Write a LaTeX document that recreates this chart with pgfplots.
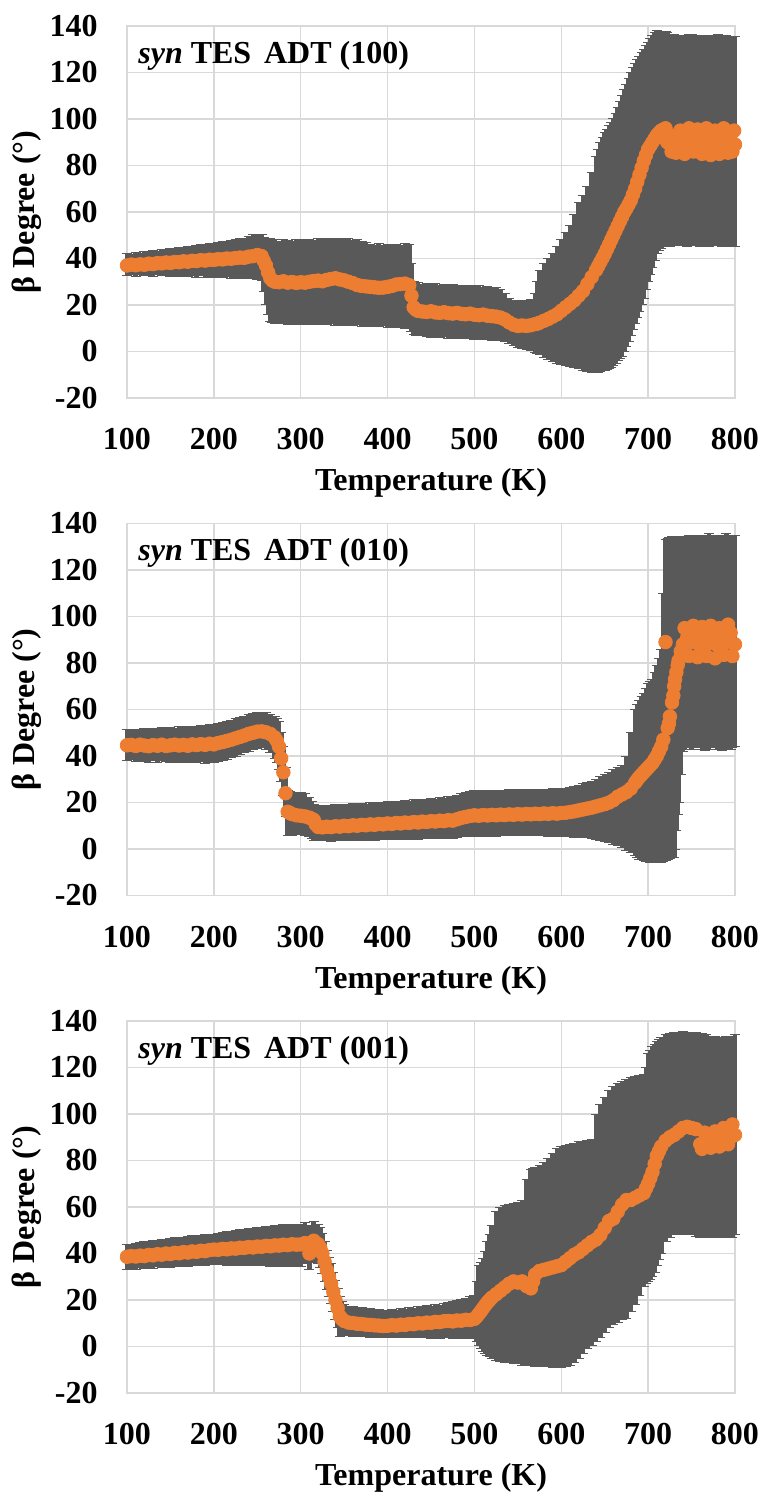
\documentclass[border=0pt]{standalone}
\usepackage{fontspec}
\setmainfont{Liberation Serif}
\usepackage{pgfplots}
\usepackage{pgfplotstable}
\pgfplotsset{compat=1.18}
\definecolor{orng}{RGB}{237,125,49}
\definecolor{ebar}{RGB}{89,89,89}
\definecolor{gridc}{RGB}{217,217,217}

% columns: temperature, beta, lower end, upper end of the error bar
\pgfplotstableread{
T b lo hi
100 37.0 32.5 42.0
105 37.4 33.0 41.8
110 37.1 32.4 42.5
115 37.5 33.1 42.3
120 37.3 32.6 43.0
125 37.8 32.9 42.8
130 37.6 32.3 43.4
135 38.0 33.0 43.2
140 37.9 32.5 43.8
145 38.3 32.8 43.9
150 38.1 32.2 44.3
155 38.5 32.9 44.2
160 38.4 32.4 44.8
165 38.8 32.7 44.7
170 38.6 32.1 45.2
175 39.0 32.6 45.3
180 38.9 32.0 45.6
185 39.3 32.5 45.9
190 39.1 31.9 46.1
195 39.5 32.3 46.4
200 39.4 31.8 46.6
205 39.7 32.2 47.0
210 39.6 31.7 47.2
215 40.0 32.1 47.5
220 39.9 31.5 47.9
225 40.2 31.9 48.0
230 40.4 31.4 48.6
235 40.3 31.8 48.8
240 40.8 31.2 49.3
245 41.0 31.6 50.5
250 41.5 31.0 50.0
255 41.0 30.5 50.5
257.5 39.0 26.0 49.0
260 37.0 20.0 48.0
262.5 34.0 16.0 48.5
265 31.5 13.0 48.5
267.5 30.5 12.5 48.0
270 30.0 12.0 48.0
275 29.8 12.5 47.5
280 30.2 12.0 48.0
285 29.6 11.5 47.8
290 29.9 12.0 47.5
295 29.5 11.8 48.2
300 29.8 11.5 48.0
305 29.6 12.2 47.6
310 30.0 11.6 48.3
315 30.3 11.8 47.8
320 30.5 11.4 48.4
325 30.2 12.0 48.0
330 30.8 11.6 48.6
335 31.2 11.9 48.1
340 31.5 11.3 48.5
345 31.0 11.7 48.8
350 30.6 11.2 48.2
355 30.0 11.6 48.4
360 29.4 11.0 47.9
365 28.6 11.5 48.1
370 28.2 10.9 47.4
375 28.0 11.2 47.0
380 27.8 10.8 46.2
385 27.6 11.2 45.8
390 27.4 10.6 46.3
395 27.5 11.0 45.6
400 27.8 10.5 46.0
405 28.2 10.8 45.4
410 28.8 10.2 46.0
415 29.0 10.5 45.8
420 29.2 10.0 46.5
425 28.5 9.8 46.0
427.5 24.0 8.5 38.0
430 19.0 7.5 30.0
432.5 18.0 7.0 29.8
435 17.5 6.8 29.6
440 17.2 7.0 29.0
445 17.0 6.6 29.3
450 17.3 6.2 28.8
455 16.8 6.5 29.1
460 16.6 6.0 28.6
465 16.9 6.3 29.0
470 16.5 5.8 28.5
475 16.3 6.1 28.8
480 16.6 5.6 28.2
485 16.2 5.9 28.6
490 16.0 5.4 28.0
495 16.3 5.7 28.4
500 15.8 5.2 27.8
505 15.6 5.5 28.2
510 15.9 5.0 27.6
515 15.4 5.3 27.9
520 15.2 4.8 27.4
525 15.0 5.1 27.6
530 14.6 4.6 26.8
535 13.8 4.2 25.0
540 12.5 3.5 23.0
545 11.5 2.5 22.0
550 11.0 1.8 21.5
555 11.2 1.5 21.8
560 11.0 1.0 22.0
565 11.3 0.5 22.5
570 11.8 -0.5 25.0
572.5 12.0 -1.0 30.0
575 12.4 -1.5 35.0
580 13.2 -2.5 38.0
585 14.0 -3.5 40.0
590 15.0 -4.5 42.0
595 16.0 -5.0 45.0
600 17.5 -5.5 48.0
605 19.0 -6.0 51.0
610 20.5 -6.5 54.0
615 22.0 -7.0 59.0
620 24.0 -7.5 64.0
625 26.0 -8.0 67.0
630 29.0 -8.5 71.0
635 32.0 -9.0 77.0
640 35.0 -9.0 84.0
642.5 36.7 -9.0 87.0
645 38.5 -8.5 90.0
647.5 40.2 -8.2 92.0
650 42.0 -8.0 94.0
652.5 44.0 -7.8 95.5
655 46.0 -7.5 97.0
657.5 48.0 -7.0 98.5
660 50.0 -6.0 100.0
662.5 52.0 -5.0 102.5
665 54.0 -4.0 105.0
667.5 56.0 -3.0 107.5
670 58.0 -2.0 110.0
672.5 60.0 0.0 112.5
675 61.5 2.0 115.0
677.5 63.2 4.5 117.5
680 65.0 7.0 120.0
682.5 67.5 9.5 122.0
685 70.0 12.0 124.0
687.5 73.0 14.5 125.5
690 76.0 17.0 127.0
692.5 79.0 20.0 128.5
695 82.0 23.0 130.0
697.5 84.5 26.5 131.5
700 87.0 30.0 133.0
702.5 88.5 33.0 134.5
705 90.0 36.0 136.0
707.5 91.5 39.0 137.0
710 93.0 42.0 138.0
712.5 94.0 43.5 137.5
715 95.0 44.5 137.0
717.5 95.5 45.0 137.0
720 96.0 45.5 137.5
722 90.0 45.5 137.0
725 93.0 45.0 136.0
727 86.0 45.5 136.5
730 91.0 46.0 136.5
732 85.5 45.5 136.0
735 90.5 45.5 135.5
737 95.0 45.5 135.5
740 91.5 46.0 136.0
742 85.0 45.5 136.0
745 90.0 45.0 136.0
747 96.0 45.5 136.5
750 92.0 45.5 136.5
752 86.0 45.5 136.0
755 91.0 46.0 135.5
757 95.5 45.5 136.0
760 90.5 45.0 136.0
762 85.0 45.5 135.5
765 92.5 45.5 135.5
767 96.0 45.0 136.0
770 89.0 45.0 136.0
772 84.5 45.5 135.5
775 91.5 46.0 135.0
777 95.0 45.5 136.0
780 88.5 45.5 136.5
782 85.0 45.5 136.0
785 92.0 45.0 135.5
787 96.0 45.5 135.5
790 90.0 45.5 136.0
792 85.5 45.5 135.5
795 93.0 46.0 135.0
797 86.0 45.0 135.5
799 95.0 45.0 135.5
800 89.0 45.0 135.5
}\dataA

\pgfplotstableread{
T b lo hi
100 44.6 37.9 51.4
105 44.8 38.3 51.0
110 44.3 37.6 51.6
115 44.9 38.2 51.3
120 44.5 37.8 51.8
125 44.2 37.3 51.5
130 44.7 37.9 52.0
135 44.4 37.4 51.7
140 44.9 38.0 52.2
145 44.3 37.5 51.9
150 44.6 37.2 52.3
155 44.9 37.8 52.0
160 44.5 37.3 52.5
165 44.8 37.7 52.2
170 44.4 37.1 52.6
175 45.0 37.6 52.4
180 44.7 37.0 52.8
185 45.1 37.5 53.0
190 44.8 36.9 53.2
195 45.3 37.4 53.5
200 45.0 37.0 53.6
205 45.6 37.6 54.0
210 46.0 38.0 54.4
215 46.5 38.6 55.0
220 47.0 39.2 55.4
225 47.6 39.8 56.0
230 48.2 40.6 56.6
235 48.8 41.3 57.2
240 49.5 42.0 57.8
245 50.0 42.8 58.4
250 50.5 43.4 58.8
255 50.6 43.6 58.9
260 50.2 43.0 58.5
265 49.5 41.5 58.0
270 48.0 39.0 57.0
272.5 46.5 37.0 56.0
275 44.0 34.0 55.0
277.5 39.0 29.0 50.0
280 33.0 23.0 44.0
282.5 24.0 14.0 35.0
285 16.0 6.0 25.0
287.5 15.5 6.0 24.8
290 15.0 5.8 24.5
295 14.5 6.2 24.0
300 14.3 6.4 24.2
305 14.0 6.0 23.8
310 13.5 5.5 22.0
312.5 13.0 4.5 20.5
315 12.5 3.6 19.0
317.5 10.5 3.5 18.8
320 9.5 3.5 18.6
325 9.3 3.8 18.4
330 9.6 3.6 18.8
335 9.4 3.4 18.5
340 9.8 3.7 19.0
345 9.6 3.5 18.7
350 10.0 3.8 19.2
355 9.8 3.5 19.0
360 10.2 3.9 19.4
365 10.0 3.6 19.1
370 10.4 4.0 19.6
375 10.2 3.7 19.3
380 10.6 4.1 19.8
385 10.4 3.8 19.6
390 10.8 4.2 20.1
395 10.6 3.9 19.8
400 11.0 4.3 20.3
405 10.8 4.0 20.0
410 11.2 4.4 20.6
415 11.0 4.1 20.3
420 11.4 4.5 20.9
425 11.2 4.2 20.6
430 11.6 4.6 21.2
435 11.4 4.3 20.9
440 11.8 4.7 21.5
445 11.6 4.4 21.2
450 12.0 4.8 21.8
455 11.8 4.5 21.5
460 12.2 4.9 22.0
465 12.0 4.6 21.8
470 12.4 5.0 22.4
475 12.2 4.7 22.6
480 12.8 5.1 23.2
485 13.4 5.3 23.8
490 13.8 5.5 24.2
495 14.2 5.2 24.6
500 14.5 5.6 25.0
505 14.3 5.3 24.7
510 14.6 5.7 25.1
515 14.4 5.4 24.8
520 14.7 5.8 25.2
525 14.5 5.5 24.9
530 14.8 5.9 25.3
535 14.6 5.6 25.0
540 14.9 6.0 25.4
545 14.7 5.7 25.1
550 15.0 6.1 25.5
555 14.8 5.8 25.2
560 15.1 6.0 25.6
565 14.9 5.7 25.3
570 15.2 5.9 25.7
575 15.0 5.6 25.4
580 15.3 5.8 25.8
585 15.1 5.5 25.5
590 15.4 5.7 25.9
595 15.2 5.4 25.6
600 15.5 5.5 26.0
605 15.6 5.3 26.2
610 15.9 5.4 26.6
615 16.2 5.1 27.0
620 16.6 5.2 27.4
625 17.0 4.9 28.0
630 17.4 4.8 28.6
635 17.8 4.5 29.2
640 18.3 4.2 30.0
645 18.8 3.8 31.0
650 19.3 3.2 32.0
655 20.0 2.6 33.0
660 21.0 2.0 34.0
665 22.5 1.5 35.0
670 23.5 0.5 36.0
675 24.5 -0.5 40.0
680 26.0 -1.5 50.0
685 28.5 -3.0 60.0
687.5 29.8 -3.5 62.0
690 31.0 -4.3 64.0
692.5 32.0 -4.6 65.5
695 33.0 -5.0 67.0
697.5 34.0 -5.2 69.0
700 35.0 -5.5 71.0
702.5 36.0 -5.6 72.0
705 37.0 -5.7 73.0
707.5 38.5 -5.7 76.0
710 40.0 -5.7 79.0
712.5 42.0 -5.7 82.0
715 44.0 -5.7 86.0
717.5 47.0 -5.5 110.0
720 89.0 -5.0 133.0
722.5 52.0 -4.5 133.5
724 54.0 -4.2 133.8
725 57.0 -4.0 134.0
727.5 63.0 -3.8 134.2
729 66.0 -3.6 134.4
730 70.0 -3.5 134.5
731 73.0 0.0 134.4
732.5 76.0 8.0 134.3
734 79.0 15.0 134.2
735 81.0 20.0 134.0
737.5 85.0 32.0 134.0
740 88.0 42.0 134.0
742 95.0 43.0 134.5
745 91.0 44.0 134.5
747 83.0 43.5 135.0
750 89.0 43.0 135.0
752 96.0 43.5 134.5
755 92.0 44.0 134.5
757 82.5 43.5 135.0
760 87.0 43.5 135.0
762 95.5 43.0 134.5
765 91.0 42.5 134.0
767 83.0 43.0 135.0
770 88.5 43.0 135.5
772 96.0 43.5 135.0
775 92.5 44.0 134.5
777 82.0 43.5 135.0
780 87.5 43.0 135.0
782 95.0 43.0 134.5
785 91.5 42.5 134.5
787 83.5 43.0 135.0
790 89.0 43.5 135.5
792 96.5 43.0 135.0
795 93.0 43.0 134.5
797 83.0 43.5 135.0
800 88.0 44.0 135.0
}\dataB

\pgfplotstableread{
T b lo hi
100 38.6 33.2 43.9
105 38.9 33.6 44.0
110 38.7 33.3 44.5
115 39.1 33.8 44.6
120 38.9 33.5 45.0
125 39.4 34.0 45.2
130 39.2 33.7 45.6
135 39.7 34.2 45.7
140 39.5 33.9 46.0
145 40.0 34.4 46.2
150 39.8 34.1 46.5
155 40.3 34.6 46.7
160 40.1 34.3 47.0
165 40.6 34.8 47.1
170 40.4 34.5 47.4
175 40.9 35.0 47.6
180 40.7 34.7 47.8
185 41.2 35.2 47.9
190 41.0 34.9 48.0
195 41.5 35.4 48.2
200 41.7 35.3 48.0
205 41.6 35.1 48.8
210 42.0 35.4 49.0
215 41.8 35.0 49.3
220 42.2 35.3 49.6
225 42.1 35.0 49.9
230 42.5 35.2 50.2
235 42.4 34.9 50.4
240 42.8 35.1 50.7
245 42.6 34.8 50.9
250 43.0 35.0 51.2
255 42.9 34.7 51.4
260 43.3 34.9 51.6
265 43.1 34.6 51.8
270 43.5 34.8 52.0
275 43.4 34.5 52.1
280 43.8 34.7 52.3
285 43.6 34.4 52.4
290 44.0 34.6 52.6
295 43.8 34.3 52.5
300 43.9 34.6 52.4
305 44.5 35.5 53.2
310 40.0 33.0 52.0
315 45.5 36.0 53.9
320 44.0 35.5 52.5
322.5 42.5 34.0 51.0
325 40.0 31.5 48.5
327.5 36.5 28.0 45.0
330 33.0 24.5 41.5
332.5 30.0 21.5 38.5
335 27.0 18.5 35.5
337.5 23.5 15.0 32.0
340 20.0 11.5 28.5
342.5 16.5 8.0 25.0
345 13.0 4.5 21.5
347.5 11.8 4.6 19.5
350 11.0 4.6 18.0
355 10.3 4.6 17.4
360 10.1 4.3 17.0
365 9.8 4.5 16.6
370 9.7 4.1 16.8
375 9.4 4.4 16.2
380 9.3 4.0 16.4
385 9.1 4.2 15.8
390 9.0 3.9 16.0
395 8.8 4.1 15.4
400 8.9 3.9 15.3
405 9.2 4.2 15.8
410 9.0 3.9 15.6
415 9.4 4.2 16.2
420 9.3 3.9 16.0
425 9.7 4.1 16.6
430 9.6 3.8 16.5
435 10.0 4.0 17.0
440 9.9 3.7 17.0
445 10.3 3.9 17.5
450 10.2 3.6 17.4
455 10.6 3.8 17.9
460 10.5 3.5 17.8
465 10.9 3.7 18.4
470 11.0 3.9 18.9
475 10.8 3.6 19.3
480 11.2 3.8 19.8
485 11.1 3.5 20.3
490 11.5 3.7 20.8
495 11.4 3.4 21.4
500 11.9 3.3 21.9
502.5 12.8 2.0 28.0
505 14.0 0.4 34.7
507.5 15.2 -0.8 36.0
510 16.5 -2.0 38.0
512.5 17.8 -3.0 41.0
515 19.0 -4.0 45.0
517.5 20.0 -4.5 48.0
520 21.0 -5.0 52.0
525 22.5 -6.0 58.0
530 24.0 -6.5 60.0
535 25.5 -7.0 60.5
540 27.0 -7.0 61.0
545 28.0 -7.5 61.5
550 27.5 -7.5 62.0
555 28.0 -8.0 63.0
560 26.0 -8.0 72.0
565 25.0 -8.0 76.0
567.5 28.0 -8.2 76.5
570 31.0 -8.5 77.0
575 32.5 -8.5 78.0
580 33.0 -8.5 79.0
585 33.5 -8.8 81.0
590 34.0 -8.9 83.0
595 34.5 -8.9 85.0
600 35.0 -8.9 86.0
605 36.5 -8.5 86.5
610 38.0 -8.0 87.0
615 39.5 -7.0 87.5
620 40.5 -5.0 88.0
625 42.0 -3.0 88.0
630 43.5 -1.0 88.5
635 45.0 0.5 89.0
640 46.0 2.0 100.0
645 48.0 4.0 104.0
650 51.0 6.0 107.0
655 54.0 8.0 110.0
660 55.0 9.5 112.0
665 58.0 10.5 113.0
670 61.0 11.5 114.0
675 63.0 12.0 115.0
680 63.0 15.0 115.5
685 64.0 18.0 116.0
690 65.0 22.0 116.5
695 66.0 26.0 117.0
697.5 68.0 27.0 120.0
700 70.0 28.0 126.0
702.5 72.5 29.0 127.5
705 75.0 30.0 129.0
707.5 78.5 32.0 130.0
710 82.0 35.0 131.0
712.5 84.0 37.5 132.0
715 86.0 40.0 133.0
720 88.5 45.0 134.0
725 90.0 47.0 134.5
730 91.0 48.0 135.0
735 92.5 48.0 135.0
740 94.0 48.5 135.5
745 94.5 48.0 135.0
750 94.0 48.0 134.5
755 93.5 47.5 135.0
760 87.0 47.0 134.5
762 85.0 47.0 134.5
765 92.0 47.5 134.0
767 88.0 47.5 134.0
770 90.0 47.0 133.5
772 85.5 47.0 133.5
775 89.0 47.0 133.5
777 92.5 47.0 133.5
780 90.0 47.5 133.0
782 86.0 47.5 133.0
785 91.0 47.0 133.0
787 94.0 47.0 133.0
790 92.0 47.5 133.5
792 87.0 47.5 133.5
795 90.0 47.0 133.0
797 95.5 47.0 133.0
800 91.0 48.0 134.0
}\dataC

\pgfplotsset{
  panel/.style={
    scale only axis, width=304pt, height=186pt,
    xmin=100, xmax=800, ymin=-20, ymax=140,
    xtick={100,200,...,800}, ytick={-20,0,...,140},
    grid=major, major grid style={draw=gridc, line width=0.75pt},
    axis line style={draw=gridc, line width=0.75pt},
    major tick length=0pt,
    clip=false,
    /pgf/number format/assume math mode=true,
    /pgf/number format/1000 sep={},
    tick label style={font=\fontsize{16}{16}\selectfont\bfseries},
    xticklabel style={inner sep=0pt, anchor=north, yshift=-15pt},
    yticklabel style={inner sep=0pt, anchor=east, xshift=-14.5pt},
    label style={font=\fontsize{16}{16}\selectfont\bfseries},
    xlabel={Temperature (K)},
    ylabel={β Degree (°)},
    xlabel style={at={(axis description cs:0.5,0)}, anchor=center, yshift=-42.5pt},
    ylabel style={at={(axis description cs:-0.165,0.5)}, anchor=center},
  },
  ebars/.style={only marks, mark=none,
    error bars/.cd, y dir=both, y explicit, error mark=|,
    error bar style={draw=ebar, line width=2.4pt},
    error mark options={draw=ebar, line width=0.5pt, mark size=2.5pt}},
  dots/.style={only marks, mark=*, mark size=3.4pt,
    mark options={draw=orng, fill=orng}},
}
\newcommand{\paneltitle}[1]{\node[anchor=base west, inner sep=0pt,
  font=\fontsize{16}{16}\selectfont\bfseries]
  at (rel axis cs:0.018,0.9) {\textit{syn} TES\hspace{0.4em}ADT (#1)};}

\begin{document}
\begin{tikzpicture}
\begin{axis}[panel, at={(0,0)}, anchor=north west]
\addplot[ebars] table[x=T, y=b, y error plus expr=\thisrow{hi}-\thisrow{b},
  y error minus expr=\thisrow{b}-\thisrow{lo}] {\dataA};
\addplot[dots] table[x=T, y=b] {\dataA};
\paneltitle{100}
\end{axis}

\begin{axis}[panel, at={(0,-248.75pt)}, anchor=north west]
\addplot[ebars] table[x=T, y=b, y error plus expr=\thisrow{hi}-\thisrow{b},
  y error minus expr=\thisrow{b}-\thisrow{lo}] {\dataB};
\addplot[dots] table[x=T, y=b] {\dataB};
\paneltitle{010}
\end{axis}

\begin{axis}[panel, at={(0,-497.5pt)}, anchor=north west]
\addplot[ebars] table[x=T, y=b, y error plus expr=\thisrow{hi}-\thisrow{b},
  y error minus expr=\thisrow{b}-\thisrow{lo}] {\dataC};
\addplot[dots] table[x=T, y=b] {\dataC};
\paneltitle{001}
\end{axis}

\pgfresetboundingbox
\path[use as bounding box] (-63.5pt,13pt) rectangle (319.5pt,-736pt);
\end{tikzpicture}
\end{document}
